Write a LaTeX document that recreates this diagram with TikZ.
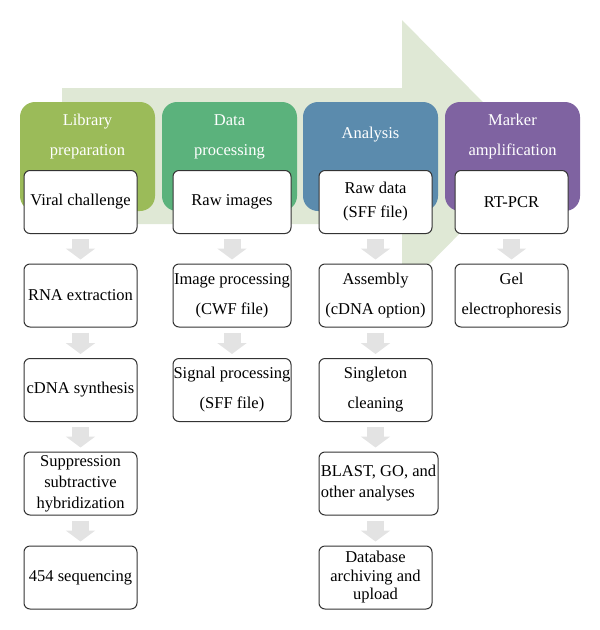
\documentclass[tikz,border=0pt]{standalone}
\usepackage{fontspec}
\setmainfont{Liberation Serif}
\usetikzlibrary{arrows.meta}
\definecolor{bgarrow}{HTML}{DFE8D5}
\definecolor{libgreen}{HTML}{9BBB59}
\definecolor{datgreen}{HTML}{5BB27C}
\definecolor{anablue}{HTML}{5B8BAD}
\definecolor{markpurple}{HTML}{7F63A1}
\begin{document}
\begin{tikzpicture}[x=1pt, y=-1pt,
  head/.style={rounded corners=15pt, minimum width=135pt, minimum height=109pt, inner sep=0pt},
  headtext/.style={text=white, align=center, inner sep=0pt, font=\fontsize{16.5}{30}\selectfont},
  box/.style={draw=black!80, line width=1pt, fill=white, rounded corners=6pt, minimum width=113pt, minimum height=63pt, inner sep=0pt, align=center, font=\fontsize{16.5}{30}\selectfont},
  flow/.style={gray!22, line width=17pt, -{Triangle[width=29pt, length=11pt]}, shorten <=5pt, shorten >=4pt}]
\useasboundingbox (0,0) rectangle (600,630);
\fill[bgarrow] (62,88) -- (402,88) -- (402,20) -- (536,156) -- (402,292) -- (402,224) -- (62,224) -- cycle;
\node[head, fill=libgreen] (hd1) at (87.5,156.5){};
\node[head, fill=datgreen] (hd2) at (229.5,156.5){};
\node[head, fill=anablue] (hd3) at (370.5,156.5){};
\node[head, fill=markpurple] (hd4) at (512.5,156.5){};
\node[headtext] (ht1) at (87.5,137){Library\\preparation};
\node[headtext] (ht2) at (229.5,137){Data\\processing};
\node[headtext] (ht3) at (370.5,135){Analysis};
\node[headtext] (ht4) at (512.5,137){Marker\\amplification};
\node[box] (lib1) at (80.5,202){Viral challenge};
\node[box] (lib2) at (80.5,295.5){RNA extraction};
\node[box] (lib3) at (80.5,390){cDNA synthesis};
\node[box, font=\fontsize{16.5}{21}\selectfont] (lib4) at (80.5,483.5){Suppression\\subtractive\\hybridization};
\node[box] (lib5) at (80.5,577.5){454 sequencing};
\draw[flow](lib1) -- (lib2);
\draw[flow](lib2) -- (lib3);
\draw[flow](lib3) -- (lib4);
\draw[flow](lib4) -- (lib5);
\node[box, minimum width=118pt] (dat1) at (232,202){Raw images};
\node[box, minimum width=118pt] (dat2) at (232,295.5){Image processing\\(CWF file)};
\node[box, minimum width=118pt] (dat3) at (232,390){Signal processing\\(SFF file)};
\draw[flow](dat1) -- (dat2);
\draw[flow](dat2) -- (dat3);
\node[box, font=\fontsize{16.5}{24}\selectfont] (ana1) at (375.5,202){Raw data\\(SFF file)};
\node[box] (ana2) at (375.5,295.5){Assembly\\(cDNA option)};
\node[box] (ana3) at (375.5,390){Singleton\\cleaning};
\node[box, minimum width=119pt, align=left, font=\fontsize{16.5}{21}\selectfont] (ana4) at (378.5,483.5){BLAST, GO, and\\other analyses};
\node[box, font=\fontsize{16.5}{18.5}\selectfont] (ana5) at (375.5,577.5){Database\\archiving and\\upload};
\draw[flow](ana1) -- (ana2);
\draw[flow](ana2) -- (ana3);
\draw[flow](ana3) -- (ana4.north -| ana3);
\draw[flow](ana4.south -| ana5) -- (ana5);
\node[box] (mrk1) at (511.5,202){RT-PCR};
\node[box] (mrk2) at (511.5,295.5){Gel\\electrophoresis};
\draw[flow](mrk1) -- (mrk2);
\end{tikzpicture}
\end{document}
